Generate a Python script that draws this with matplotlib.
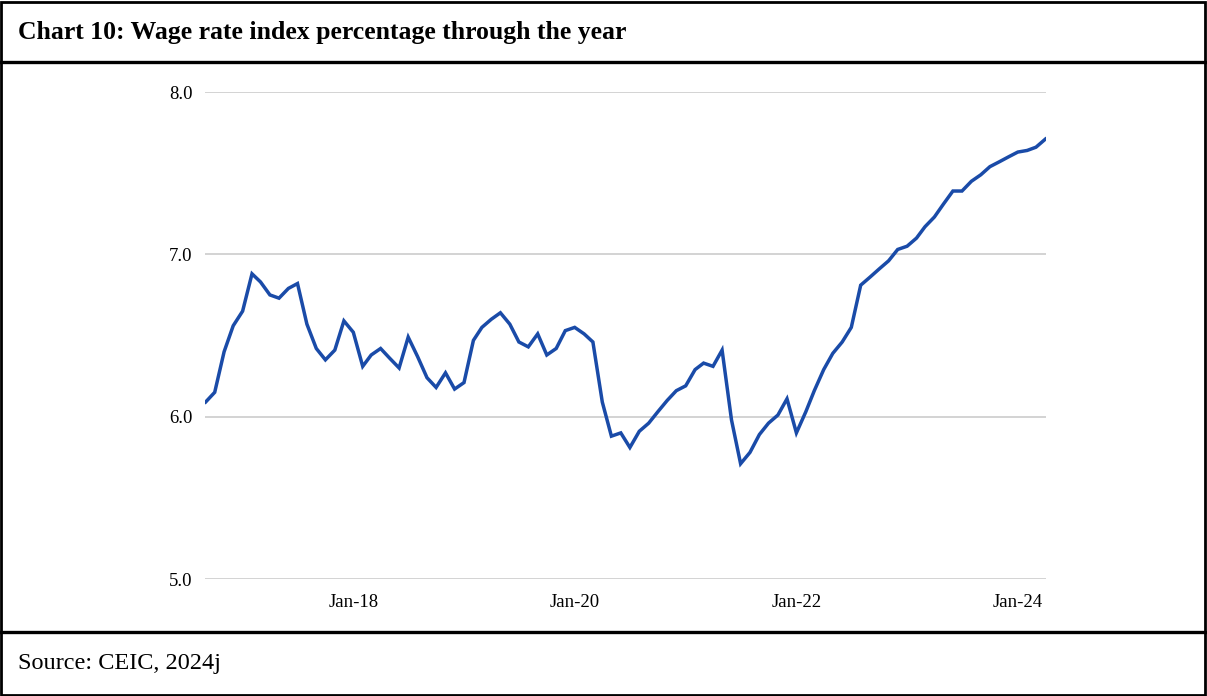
import matplotlib
matplotlib.use("Agg")
import matplotlib.pyplot as plt
import matplotlib.dates as mdates
from matplotlib.lines import Line2D
from matplotlib.patches import Rectangle
import pandas as pd

# Wage rate index, % change through the year, monthly from Sep 2016
months = pd.date_range("2016-09-01", periods=92, freq="MS")
wage_growth = [
    6.09, 6.15, 6.40, 6.56, 6.65, 6.88, 6.83, 6.75, 6.73, 6.79,
    6.82, 6.57, 6.42, 6.35, 6.41, 6.59, 6.52, 6.31, 6.38, 6.42,
    6.36, 6.30, 6.49, 6.37, 6.24, 6.18, 6.27, 6.17, 6.21, 6.47,
    6.55, 6.60, 6.64, 6.57, 6.46, 6.43, 6.51, 6.38, 6.42, 6.53,
    6.55, 6.51, 6.46, 6.09, 5.88, 5.90, 5.81, 5.91, 5.96, 6.03,
    6.10, 6.16, 6.19, 6.29, 6.33, 6.31, 6.41, 5.98, 5.71, 5.78,
    5.89, 5.96, 6.01, 6.11, 5.90, 6.03, 6.16, 6.29, 6.39, 6.46,
    6.55, 6.81, 6.86, 6.91, 6.96, 7.03, 7.05, 7.10, 7.17, 7.23,
    7.31, 7.39, 7.39, 7.45, 7.49, 7.54, 7.57, 7.60, 7.63, 7.64,
    7.66, 7.71,
]
y_ticks = [5.0, 6.0, 7.0, 8.0]
x_ticks = pd.to_datetime(["2018-01-01", "2020-01-01", "2022-01-01", "2024-01-01"])

title = "Chart 10: Wage rate index percentage through the year"
source = "Source: CEIC, 2024j"

W, H = 1207, 696
fig = plt.figure(figsize=(W / 100, H / 100), dpi=100)
serif = ["Liberation Serif", "DejaVu Serif"]

# frame and section dividers
fig.patches.append(Rectangle((1 / W, 1 / H), 1 - 3 / W, 1 - 3 / H, transform=fig.transFigure,
                             fill=False, edgecolor="black", linewidth=2))
for yy in (62, 632):
    fig.add_artist(Line2D([0, 1], [1 - yy / H, 1 - yy / H], transform=fig.transFigure,
                          color="black", linewidth=2.4))

fig.text(18 / W, 1 - 33 / H, title, family=serif, fontweight="bold", fontsize=18.5,
         ha="left", va="center")
fig.text(18 / W, 1 - 664 / H, source, family=serif, fontsize=17.5, ha="left", va="center")

ax = fig.add_axes([205 / W, 1 - 579 / H, (1046 - 205) / W, (579 - 92) / H])
ax.plot(months, wage_growth, color="#1a4ba8", linewidth=2.5, solid_joinstyle="miter")

ax.set_ylim(5.0, 8.0)
ax.set_yticks(y_ticks)
ax.set_yticklabels([f"{v:.1f}" for v in y_ticks])
ax.set_xlim(months[0] - pd.Timedelta(days=2), months[-1] + pd.Timedelta(days=2))
ax.set_xticks(x_ticks)
ax.xaxis.set_major_formatter(mdates.DateFormatter("%b-%y"))

ax.grid(axis="y", color="#cccccc", linewidth=1.2)
ax.set_axisbelow(True)
for side in ax.spines.values():
    side.set_visible(False)
ax.tick_params(axis="both", length=0, labelsize=13.5)
ax.tick_params(axis="y", pad=9)
ax.tick_params(axis="x", pad=11)
for lbl in ax.get_xticklabels() + ax.get_yticklabels():
    lbl.set_family(serif)

fig.savefig("out.png", dpi=100)
